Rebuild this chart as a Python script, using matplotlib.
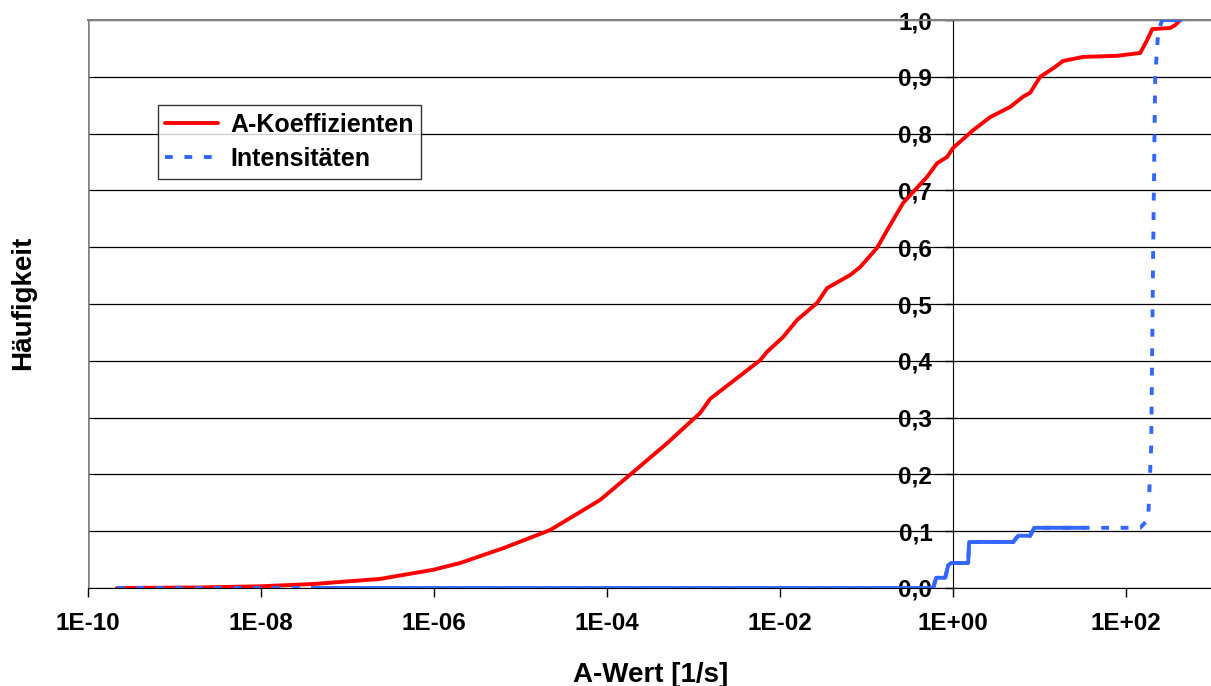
import numpy as np
import matplotlib
matplotlib.use("Agg")
import matplotlib.pyplot as plt
from matplotlib.ticker import FuncFormatter, FixedLocator, NullLocator

# log10 of A-value and cumulative frequency
a_logx = [-9.665, -8.705, -8.012, -7.399, -6.624, -6.012, -5.699, -5.202, -4.659,
          -4.081, -3.699, -3.306, -2.925, -2.809, -2.231, -2.150, -1.965, -1.803,
          -1.572, -1.457, -1.191, -1.075, -0.879, -0.763, -0.578, -0.301, -0.185,
          -0.069, 0.0, 0.231, 0.428, 0.659, 0.809, 0.890, 1.006, 1.156, 1.272,
          1.503, 1.896, 2.162, 2.243, 2.301, 2.509, 2.566, 2.624]
a_freq = [0.0, 0.001, 0.003, 0.007, 0.016, 0.032, 0.044, 0.070, 0.102,
          0.155, 0.204, 0.255, 0.308, 0.333, 0.401, 0.416, 0.442, 0.472,
          0.502, 0.528, 0.551, 0.565, 0.599, 0.630, 0.678, 0.724, 0.748,
          0.759, 0.775, 0.806, 0.829, 0.847, 0.865, 0.872, 0.900, 0.915, 0.928,
          0.935, 0.937, 0.942, 0.965, 0.984, 0.986, 0.991, 1.0]

i_logx = [-9.665, -7.399, -3.0, -0.231, -0.197, -0.092, -0.058, -0.023, 0.173,
          0.185, 0.694, 0.751, 0.890, 0.936, 1.5, 2.162, 2.254, 2.289, 2.312,
          2.335, 2.370, 2.416, 2.624]
i_freq = [0.0, 0.0, 0.0, 0.0, 0.018, 0.018, 0.040, 0.044, 0.044,
          0.081, 0.081, 0.092, 0.092, 0.106, 0.106, 0.106, 0.121, 0.25, 0.60,
          0.90, 0.98, 1.0, 1.0]

a_x = 10.0 ** np.array(a_logx)
i_x = 10.0 ** np.array(i_logx)

plt.rcParams['font.family'] = ['Liberation Sans', 'DejaVu Sans']
plt.rcParams['font.weight'] = 'bold'

fig = plt.figure(figsize=(12.11, 6.86), dpi=100)
ax = fig.add_axes([88/1211, 98/686, 1123/1211, 568/686])

red = '#ff0000'
blue = '#3366ff'

ax.plot(a_x, a_freq, color=red, lw=2.8, label='A-Koeffizienten', zorder=3,
        solid_joinstyle='round', solid_capstyle='round')
ax.plot(i_x, i_freq, color=blue, lw=2.8, dashes=(2.0, 3.0), label='Intensitäten', zorder=4)
# densely sampled parts of the blue curve look solid in the original
ax.plot(i_x[1:15], i_freq[1:15], color=blue, lw=2.8, zorder=4)
ax.plot(i_x[-2:], i_freq[-2:], color=blue, lw=2.8, zorder=4)

ax.set_xscale('log')
ax.set_xlim(1e-10, 10 ** 2.98)
ax.set_ylim(0, 1.0)

ax.xaxis.set_major_locator(FixedLocator([10.0 ** k for k in range(-10, 3, 2)]))
ax.xaxis.set_minor_locator(NullLocator())
ax.xaxis.set_major_formatter(FuncFormatter(lambda v, p: "1E%+03d" % int(round(np.log10(v)))))
ax.set_yticks(np.arange(0, 1.01, 0.1))
ax.yaxis.set_major_formatter(FuncFormatter(lambda v, p: ("%.1f" % v).replace('.', ',')))

ax.grid(axis='y', color='black', lw=0.9)
ax.set_axisbelow(True)

ax.spines['left'].set_position(('data', 1))
ax.spines['left'].set_color('black')
ax.spines['right'].set_visible(False)
ax.spines['top'].set_color('#808080')
ax.spines['top'].set_linewidth(1.5)
ax.spines['bottom'].set_color('black')
ax.axvline(1e-10, color='#808080', lw=1.8, zorder=2)

ax.tick_params(axis='x', length=6.5, width=1, pad=11, labelsize=17.5)
ax.tick_params(axis='y', length=6, width=1, pad=9, labelsize=17.5)

ax.set_xlabel('A-Wert [1/s]', fontsize=20, fontweight='bold')
ax.xaxis.set_label_coords(0.501, -0.13)
fig.text(23/1211, 1 - 303/686, 'Häufigkeit', rotation=90, ha='center', va='center',
         fontsize=20, fontweight='bold')

leg = ax.legend(loc='upper left', bbox_to_anchor=(0.0623, 0.850), borderaxespad=0,
                fontsize=18, frameon=True, fancybox=False, edgecolor='black',
                handlelength=2.1, handletextpad=0.5, borderpad=0.3, labelspacing=0.42)
leg.get_frame().set_linewidth(1.0)

fig.savefig('out.png', dpi=100)
